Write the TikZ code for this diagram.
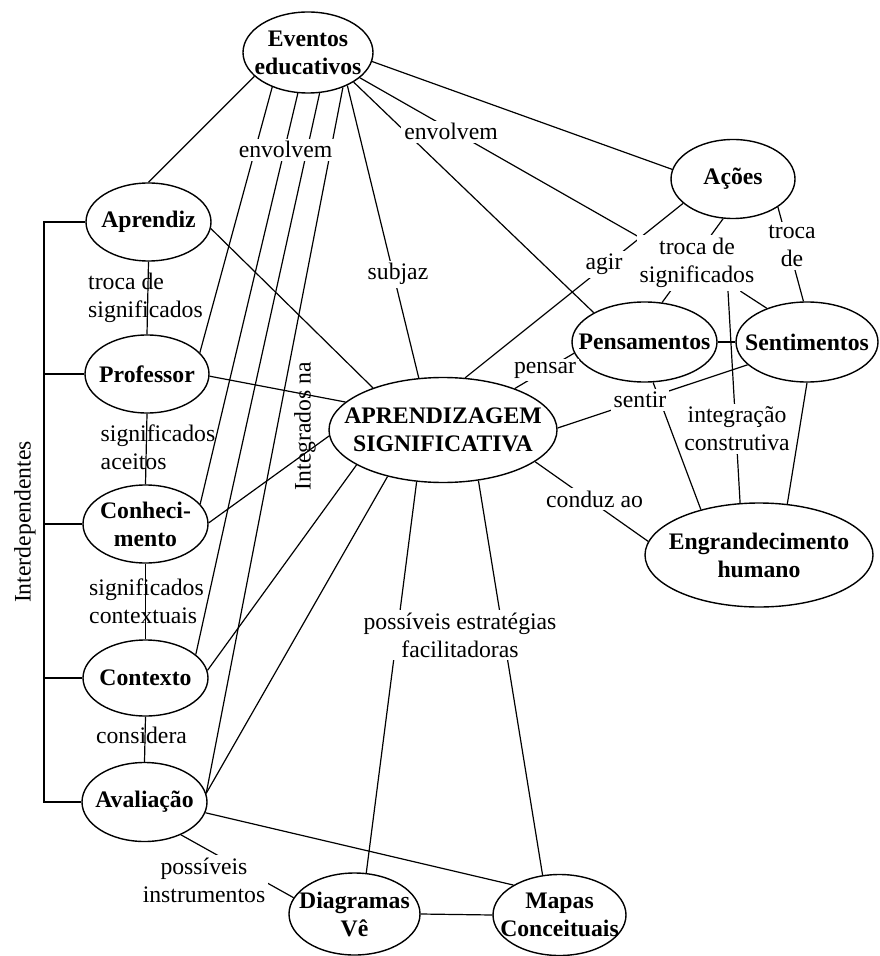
\documentclass[tikz,border=0pt]{standalone}
\usepackage{fontspec}
\setmainfont{Liberation Serif}
\usetikzlibrary{shapes.geometric,calc,backgrounds}
\begin{document}
\begin{tikzpicture}[x=0.5pt,y=-0.5pt,
  every node/.style={font=\fontsize{11.85}{14}\selectfont},
  ell/.style={ellipse,draw,fill=white,inner sep=0pt,line width=0.7pt},
  etxt/.style={font=\fontsize{11.85}{14}\selectfont\bfseries,align=center,inner sep=0pt},
  lab/.style={fill=white,inner sep=1.5pt,align=center},
  labl/.style={inner sep=0pt,align=left},
  conn/.style={line width=0.6pt}]
\useasboundingbox (0,0) rectangle (879,956);

% concept ellipses
\node[ell,minimum width=65pt,minimum height=40.5pt] (ev) at (308,52.5) {};
\node[etxt] (evt) at (ev) {Eventos\\educativos};
\node[ell,minimum width=62.5pt,minimum height=39pt] (ap) at (148.5,222) {};
\node[etxt] (apt) at (ap) {Aprendiz};
\node[ell,minimum width=62pt,minimum height=39pt] (pr) at (147,374) {};
\node[etxt] (prt) at (pr) {Professor};
\node[ell,minimum width=62.5pt,minimum height=39pt] (co) at (145.5,524) {};
\node[etxt] (cot) at (co) {Conheci-\\mento};
\node[ell,minimum width=62.5pt,minimum height=38pt] (cx) at (145.5,678) {};
\node[etxt] (cxt) at (cx) {Contexto};
\node[ell,minimum width=62.5pt,minimum height=39.5pt] (av) at (144.5,802) {};
\node[etxt] (avt) at (av) {Avaliação};
\node[ell,minimum width=65.5pt,minimum height=41pt] (dv) at (354.5,914) {};
\node[etxt] (dvt) at (dv) {Diagramas\\Vê};
\node[ell,minimum width=66.5pt,minimum height=40.5pt] (mc) at (559.5,915) {};
\node[etxt] (mct) at (mc) {Mapas\\Conceituais};
\node[ell,minimum width=114pt,minimum height=52.5pt] (as) at (443,430) {};
\node[etxt] (ast) at (as) {APRENDIZAGEM\\SIGNIFICATIVA};
\node[ell,minimum width=62pt,minimum height=39.5pt] (ac) at (733,179) {};
\node[etxt] (act) at (ac) {Ações};
\node[ell,minimum width=72.5pt,minimum height=40pt] (pe) at (644.5,342) {};
\node[etxt] (pet) at (pe) {Pensamentos};
\node[ell,minimum width=71pt,minimum height=40pt] (se) at (807,342) {};
\node[etxt] (set) at (se) {Sentimentos};
\node[ell,minimum width=114pt,minimum height=52pt] (eh) at (759,555) {};
\node[etxt] (eht) at (eh) {Engrandecimento\\humano};

% linking words
\node[lab,anchor=base] (lenv1) at (285.5,158) {envolvem};
\node[lab,anchor=base] (lenv2) at (451,140) {envolvem};
\node[lab,anchor=base] (lsub) at (398,280) {subjaz};
\node[labl] (lt1) at (145.5,297.5) {troca de\\significados};
\node[labl] (lsa) at (158,447) {significados\\aceitos};
\node[labl] (lsc) at (146.5,601) {significados\\contextuais};
\node[inner sep=0pt,anchor=base] (lcons) at (141.5,743) {considera};
\node[lab] (lpi) at (204,880) {possíveis\\instrumentos};
\node[lab] (lpef) at (460,635) {possíveis estratégias\\facilitadoras};
\node[lab,anchor=base] (lagir) at (604,270) {agir};
\node[lab] (ltsig) at (697,263) {troca de\\significados};
\node[lab] (ltde) at (792,246) {troca\\de};
\node[lab,anchor=base] (lpensar) at (545,373) {pensar};
\node[lab,anchor=base] (lsentir) at (640,408) {sentir};
\node[lab] (linteg) at (737,429) {integração\\construtiva};
\node[lab,anchor=base] (lconduz) at (594.5,507) {conduz ao};
\node[inner sep=0pt,rotate=90] (lint) at (305,426) {Integrados na};
\node[inner sep=0pt,rotate=90] (linter) at (25,522) {Interdependentes};

\coordinate (jn) at ($(ac.206.6)!0.197!(as.67.5)$);
\coordinate (bk) at (44,500);

\begin{pgfonlayer}{background}
\draw[conn] (ev.204) -- (ap.north);
\draw[conn] (ev.224) -- (pr.22.5);
\draw[conn] (ev.256) -- (co.20.4);
\draw[conn] (ev.286.5) -- (cx.25.5);
\draw[conn] (ev.315.4) -- (av.8);
\draw[conn] (ev.320.2) -- (as.115.7);
\draw[conn] (ev.327.9) -- (pe.150.6);
\draw[conn] (ev.334.7) -- (jn);
\draw[conn] (ev.352.5) -- (ac.171.6);
\draw[conn] (ac.206.6) -- (as.67.5);
\draw[conn] (ac.256) -- (pe.66.4);
\draw[conn] (ltsig) -- (se.140.6);
\draw[conn] ($(ltsig.south)+(31,0)$) -- (eh.110.7);
\draw[conn] (ac.328.1) -- (se.95.7);
\draw[conn] (pe.east) -- (se.west);
\draw[conn] (pe.189.9) -- (as.30.8);
\draw[conn] (se.201.3) -- (as.1.5);
\draw[conn] (pe.282) -- (eh.142.7);
\draw[conn] (se.270) -- (eh.61.7);
\draw[conn] (as.341.2) -- (eh.173.3);
\draw[conn] (ap.354.4) -- (as.149.4);
\draw[conn] (pr.358) -- (as.164.9);
\draw[conn] (co.1.8) -- (as.183.5);
\draw[conn] (cx.7.3) -- (as.202.3);
\draw[conn] (av.8) -- (as.220.5);
\draw[conn] (as.243.4) -- (dv.74.9);
\draw[conn] (as.305) -- (mc.113.6);
\draw[conn] (av.350.9) -- (mc.147.2);
\draw[conn] (av.318.7) -- (dv.165.4);
\draw[conn] (dv.east) -- (mc.west);
\draw[conn] (ap.south) -- (pr.north);
\draw[conn] (pr.south) -- (co.north);
\draw[conn] (co.south) -- (cx.north);
\draw[conn] (cx.south) -- (av.north);
% interdependence bracket
\draw[conn] (ap.west) -- (ap.west -| bk) -- (av.west -| bk) -- (av.west);
\draw[conn] (pr.west) -- (pr.west -| bk);
\draw[conn] (co.west) -- (co.west -| bk);
\draw[conn] (cx.west) -- (cx.west -| bk);
\end{pgfonlayer}
\end{tikzpicture}
\end{document}
